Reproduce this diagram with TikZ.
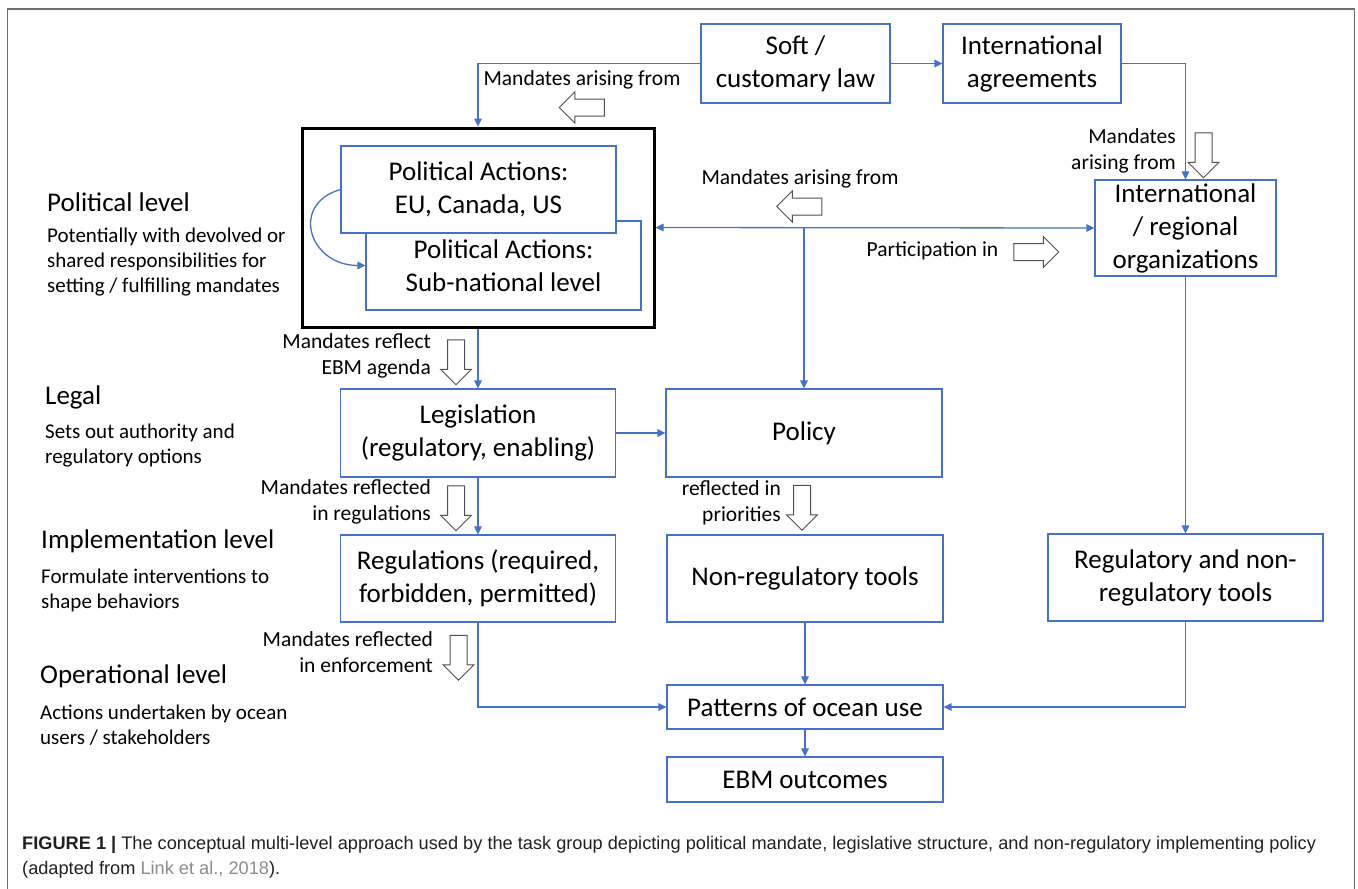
\documentclass[tikz,border=0pt]{standalone}
\usepackage{fontspec}
\setmainfont{Carlito}
\newfontfamily\capfont{Liberation Sans}
\usepackage{tikz}
\usetikzlibrary{shapes,arrows}
\usetikzlibrary{arrows.meta}
\usetikzlibrary{shapes.arrows}
\usetikzlibrary{calc}
\definecolor{lineblue}{RGB}{68,114,196}
\definecolor{arrowgray}{RGB}{80,80,80}
\definecolor{framegray}{RGB}{110,110,110}
\definecolor{linkgray}{RGB}{140,140,140}
\definecolor{captext}{RGB}{35,31,32}
\tikzset{
  blockbox/.style={
    draw=lineblue,line width=1.2pt,fill=white,align=center,inner sep=0pt,
    font=\fontsize{27}{33}\selectfont,
  },
  thickbox/.style={draw=black,line width=3pt,inner sep=0pt},
  conn/.style={draw=lineblue,line width=1.3pt},
  hollow/.style={
    single arrow,draw=arrowgray,fill=white,line width=1pt,
    inner xsep=0pt,inner ysep=8pt,single arrow head extend=7pt,
    minimum height=45pt,
  },
  note/.style={inner sep=0pt,align=right,font=\fontsize{21.5}{26}\selectfont},
  leveltitle/.style={anchor=west,inner sep=0pt,font=\fontsize{27}{30}\selectfont},
  leveltext/.style={anchor=west,inner sep=0pt,align=left,font=\fontsize{21}{25}\selectfont},
}
\begin{document}
\begin{tikzpicture}[x=1pt,y=-1pt,>={Triangle[length=8pt,width=7.5pt]}]
        \useasboundingbox (0,0) rectangle (1358,889);
        % outer frame
        \draw[framegray,line width=1.5pt] (7.5,889) -- (7.5,9) -- (1354.5,9) -- (1354.5,889);

        % top row
        \node[blockbox,minimum width=189pt,minimum height=79pt] (soft) at (795.5,63.5) {Soft /\\customary law};
        \node[blockbox,minimum width=178pt,minimum height=79pt] (intag) at (1032,63.5) {International\\agreements};

        % political level
        \node[thickbox,minimum width=352pt,minimum height=199pt] (polbox) at (478,227.5) {};
        \node[blockbox,minimum width=275pt,minimum height=89pt] (subnat) at (503.5,265.5) {Political Actions:\\Sub-national level};
        \node[blockbox,minimum width=275pt,minimum height=87pt] (eu) at (478.5,189.5) {Political Actions:\\EU, Canada, US};
        \node[blockbox,minimum width=181pt,minimum height=96pt] (intreg) at (1185.5,228) {International\\/ regional\\organizations};

        % legal level
        \node[blockbox,minimum width=275pt,minimum height=88pt] (legis) at (478,433) {Legislation\\(regulatory, enabling)};
        \node[blockbox,minimum width=276pt,minimum height=88pt] (policy) at (804,433) {Policy};

        % implementation level
        \node[blockbox,minimum width=275pt,minimum height=87pt] (regs) at (478,578.5) {Regulations (required,\\forbidden, permitted)};
        \node[blockbox,minimum width=276pt,minimum height=87pt] (nonreg) at (805,578.5) {Non-regulatory tools};
        \node[blockbox,minimum width=275pt,minimum height=87pt] (regnon) at (1185.5,577.5) {Regulatory and non-\\regulatory tools};

        % operational level
        \node[blockbox,minimum width=276pt,minimum height=44pt] (patterns) at (805,707) {Patterns of ocean use};
        \node[blockbox,minimum width=276pt,minimum height=45pt] (ebm) at (805,779.5) {EBM outcomes};

        % connectors
        \draw[conn,->] (soft.west) -| (polbox.north);
        \draw[conn,->] (soft.east) -- (intag.west);
        \draw[conn,->] (intag.east) -| (intreg.north);
        \draw[conn,<->] (polbox.east) -- (intreg.west);
        \coordinate (split) at (polbox.east -| policy.north);
        \draw[conn,->] (split) -- (policy.north);
        \draw[conn,->] (eu.west) .. controls +(-51,15) and +(-56,0) .. (subnat.west);
        \draw[conn,->] (polbox.south) -- (legis.north);
        \draw[conn,->] (legis.east) -- (policy.west);
        \draw[conn,->] (legis.south) -- (regs.north);
        \draw[conn,->] (intreg.south) -- (regnon.north);
        \draw[conn,->] (regs.south) |- (patterns.west);
        \draw[conn,->] (nonreg.south) -- (patterns.north);
        \draw[conn,->] (regnon.south) |- (patterns.east);
        \draw[conn,->] (patterns.south) -- (ebm.north);

        % hollow block arrows
        \node[hollow,rotate=180] (harr1) at (586,107.5) {};
        \node[hollow,rotate=-90] (harr2) at (1203.5,151) {};
        \node[hollow,rotate=180] (harr3) at (803.5,206.5) {};
        \node[hollow] (harr4) at (1032,252) {};
        \node[hollow,rotate=-90] (harr5) at (456,358) {};
        \node[hollow,rotate=-90] (harr6) at (456,504) {};
        \node[hollow,rotate=-90] (harr7) at (802,503.5) {};
        \node[hollow,rotate=-90] (harr8) at (458.5,653.5) {};

        % arrow labels
        \node[note] (lbl1) at (582,80) {Mandates arising from};
        \node[note,anchor=east] (lbl2) at (1176,151) {Mandates\\arising from};
        \node[note] (lbl3) at (800,179) {Mandates arising from};
        \node[note] (lbl4) at (932.5,251) {Participation in};
        \node[note,anchor=east] (lbl5) at (431,356) {Mandates reflect\\EBM agenda};
        \node[note,anchor=east] (lbl6) at (431,502) {Mandates reflected\\in regulations};
        \node[note,anchor=east] (lbl7) at (781,502.5) {reflected in\\priorities};
        \node[note,anchor=east] (lbl8) at (433,652) {Mandates reflected\\in enforcement};

        % level descriptions
        \node[leveltitle] (pollevel) at (47,202) {Political level};
        \node[leveltext] (poltext) at (47,262) {Potentially with devolved or\\shared responsibilities for\\setting / fulfilling mandates};
        \node[leveltitle] (legallevel) at (45,397) {Legal};
        \node[leveltext] (legaltext) at (45,445.5) {Sets out authority and\\regulatory options};
        \node[leveltitle] (implevel) at (41,541) {Implementation level};
        \node[leveltext] (imptext) at (41,590) {Formulate interventions to\\shape behaviors};
        \node[leveltitle] (oplevel) at (40,676) {Operational level};
        \node[leveltext] (optext) at (40,725.5) {Actions undertaken by ocean\\users / stakeholders};

        % caption
        \node[anchor=west,inner sep=0pt,align=left,text=captext,font=\capfont\fontsize{18.2}{25}\selectfont] (caption) at (22,857.5)
            {\textbf{FIGURE 1 |} The conceptual multi-level approach used by the task group depicting political mandate, legislative structure, and non-regulatory implementing policy\\(adapted from \textcolor{linkgray}{Link et al., 2018}).};
    \end{tikzpicture}
\end{document}
